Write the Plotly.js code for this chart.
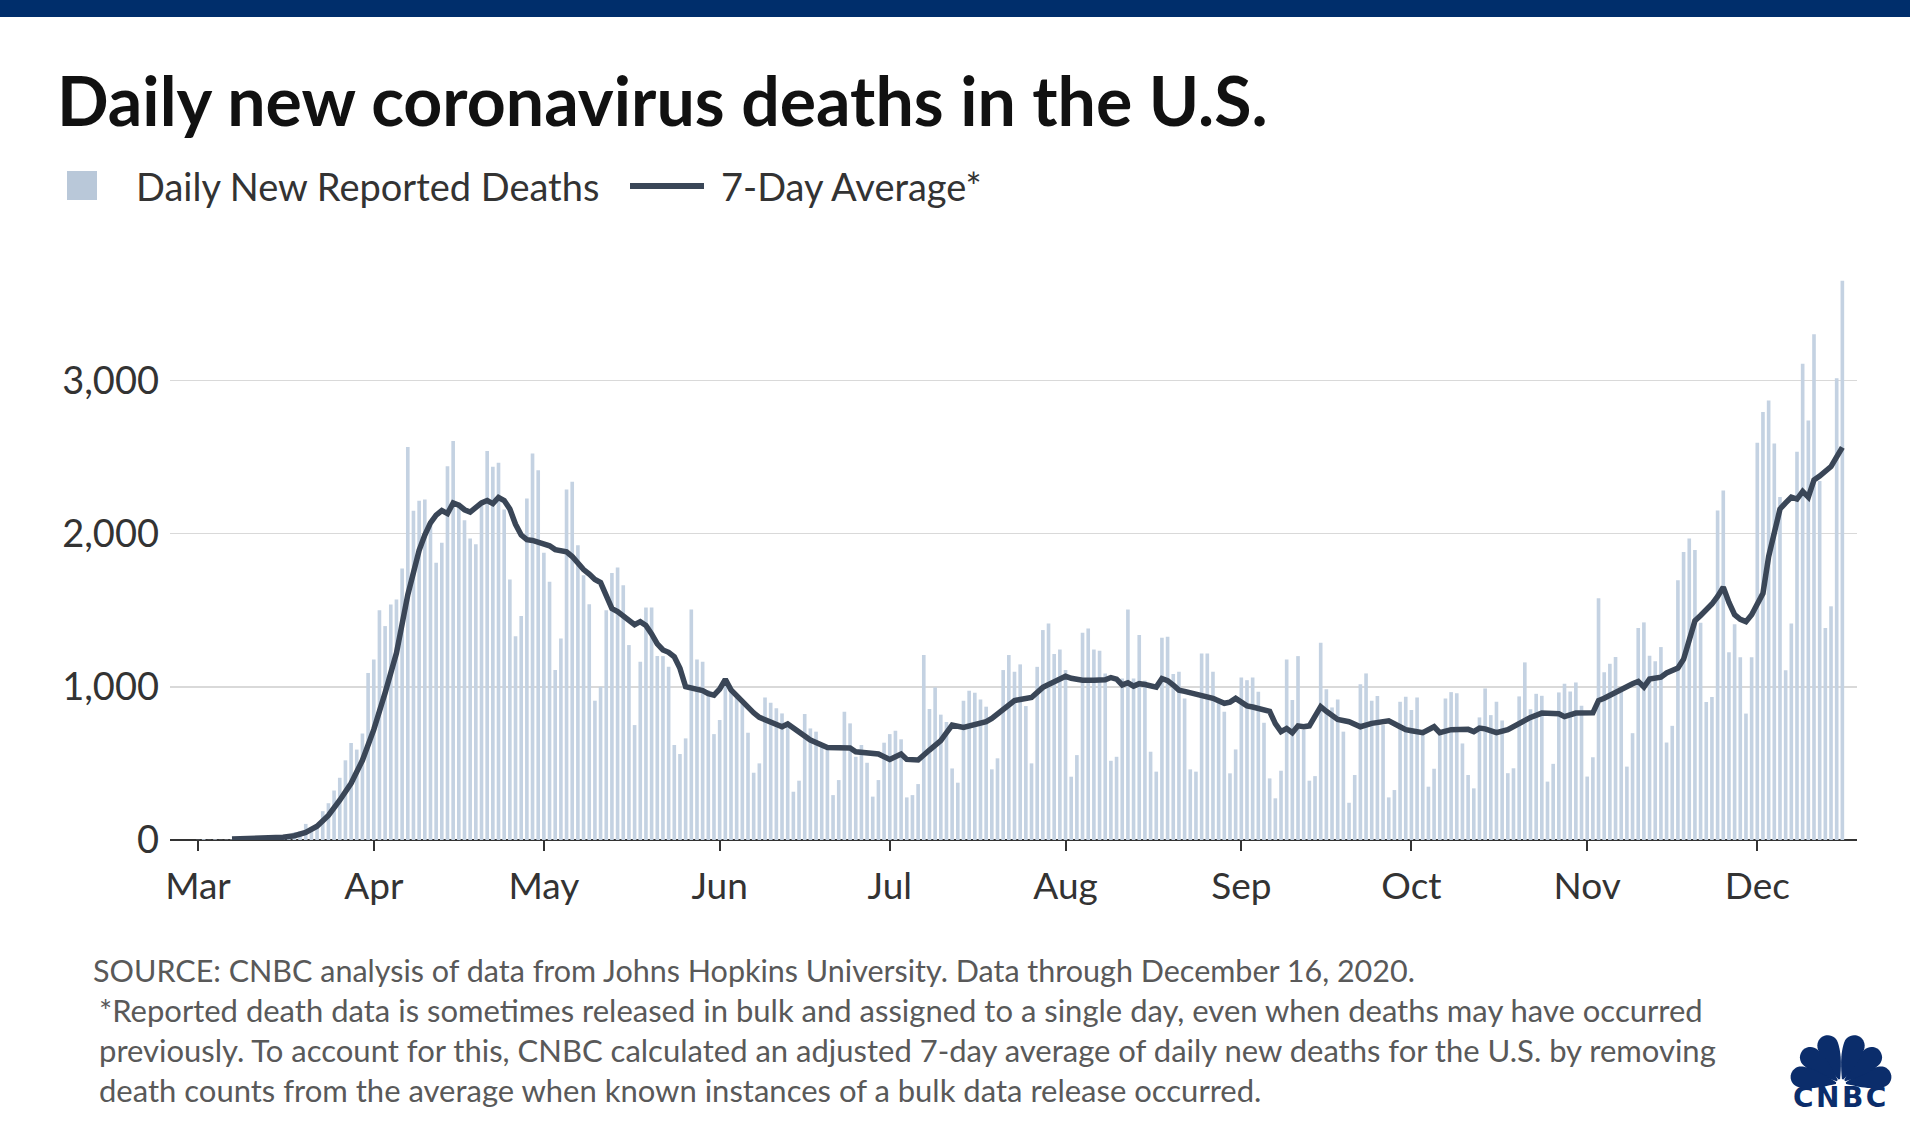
<!DOCTYPE html>
<html>
<head>
<meta charset="utf-8">
<script src="https://cdn.plot.ly/plotly-3.0.1.min.js"></script>
<style>
  html, body { margin: 0; padding: 0; background: #ffffff; }
  #chart { width: 1910px; height: 1123px; }
</style>
</head>
<body>
<div id="chart"></div>
<script>
// ---------------- DATA ----------------
const marDeaths = [1,5,1,4,1,2,3,4,4,5,7,8,10,9,12,20,25,50,57,105,83,94,188,240,323,406,520,633,590,695,1090];
const aprDeaths = [1178,1500,1396,1537,1570,1772,2565,2148,2213,2222,2048,1809,1939,2439,2604,2200,2087,1967,1930,2207,2539,2435,2461,2157,1700,1330,1461,2228,2522,2413];
const mayDeaths = [1874,1685,1109,1315,2287,2337,1924,1728,1539,909,1000,1500,1743,1778,1663,1272,750,1163,1517,1517,1200,1200,1130,620,561,663,1504,1178,1163,978,691];
const junDeaths = [783,1004,1000,950,891,700,439,500,930,896,859,826,761,315,387,822,728,707,630,587,293,391,837,761,543,620,504,283,391,635];
const julDeaths = [691,713,657,278,293,365,1207,855,996,818,770,467,374,909,974,961,917,870,461,533,1109,1207,1098,1146,874,500,1130,1370,1413,1213,1243];
const augDeaths = [1109,413,554,1352,1380,1243,1235,1087,517,543,1054,1504,1054,1337,1040,576,446,1320,1326,1083,1098,924,461,446,1217,1217,1098,902,837,435,591];
const sepDeaths = [1061,1043,1061,967,765,402,272,452,1178,913,1200,720,387,417,1287,983,865,917,707,243,424,1017,1087,909,939,750,278,326,902,935];
const octDeaths = [848,930,700,348,465,700,924,965,957,630,424,337,800,989,815,902,780,436,468,937,1159,854,954,941,381,497,963,1020,969,1028,876];
const novDeaths = [414,540,1577,1094,1150,1194,991,479,697,1383,1420,1203,1166,1259,636,745,1695,1880,1968,1893,1418,900,933,2150,2280,1225,1408,1193,825,1193];
const decDeaths = [2593,2793,2868,2588,2238,1108,1413,2533,3108,2738,3300,2343,1383,1525,3013,3650];

const avgDates = [
 "03-07","03-10","03-13","03-16","03-18","03-20","03-22","03-24","03-26","03-28","03-30",
 "04-01","04-03","04-05","04-07","04-09","04-10","04-11","04-12","04-13","04-14","04-15","04-16","04-17","04-18","04-19","04-20","04-21","04-22","04-23","04-24","04-25","04-26","04-27","04-28","04-29","04-30",
 "05-01","05-02","05-03","05-04","05-05","05-06","05-07","05-08","05-09","05-10","05-11","05-12","05-13","05-14","05-15","05-16","05-17","05-18","05-19","05-20","05-21","05-22","05-23","05-24","05-25","05-26","05-27","05-28","05-29","05-30","05-31",
 "06-01","06-02","06-03","06-04","06-05","06-06","06-07","06-08","06-10","06-12","06-13","06-15","06-17","06-20","06-23","06-24","06-25","06-27","06-29",
 "07-01","07-03","07-04","07-06","07-08","07-10","07-11","07-12","07-14","07-16","07-18","07-19","07-21","07-23","07-24","07-26","07-28","07-30",
 "08-01","08-02","08-04","08-06","08-08","08-09","08-10","08-11","08-12","08-13","08-14","08-15","08-16","08-17","08-18","08-19","08-20","08-21","08-22","08-24","08-26","08-27","08-29","08-30","08-31",
 "09-01","09-02","09-03","09-05","09-06","09-07","09-08","09-09","09-10","09-11","09-12","09-13","09-14","09-15","09-16","09-17","09-18","09-20","09-22","09-24","09-27","09-29","09-30",
 "10-01","10-03","10-05","10-06","10-08","10-11","10-12","10-13","10-14","10-16","10-18","10-20","10-22","10-24","10-25","10-27","10-28","10-30",
 "11-02","11-03","11-04","11-05","11-07","11-09","11-10","11-11","11-12","11-14","11-15","11-17","11-18","11-19","11-20","11-21","11-22","11-23","11-24","11-25","11-26","11-27","11-28","11-29","11-30",
 "12-01","12-02","12-03","12-04","12-05","12-06","12-07","12-08","12-09","12-10","12-11","12-12","12-13","12-14","12-15","12-16"
];
const avgValues = [
 6,8,12,18,28,50,90,160,260,370,520,
 720,960,1220,1600,1890,1990,2070,2120,2150,2130,2200,2185,2155,2140,2170,2200,2215,2195,2235,2215,2160,2060,1990,1960,1955,1945,
 1935,1920,1895,1890,1880,1850,1800,1765,1735,1700,1680,1600,1510,1490,1465,1440,1405,1425,1400,1345,1280,1240,1225,1195,1120,1000,990,985,975,955,945,
 985,1048,980,940,905,870,830,800,772,739,757,707,652,604,603,600,576,570,561,
 526,561,526,522,587,648,700,750,735,757,772,793,852,910,917,930,996,1033,
 1068,1055,1043,1043,1045,1060,1050,1012,1026,1004,1020,1015,1011,998,1054,1040,1011,978,970,952,935,925,892,900,924,
 900,875,868,852,840,760,707,728,700,745,740,745,800,870,840,815,787,772,739,761,778,739,720,
 713,700,739,700,720,722,707,730,725,700,720,762,800,828,825,824,805,828,
 830,910,925,945,990,1020,1035,998,1050,1063,1090,1122,1180,1300,1430,1465,1500,1540,1590,1650,1550,1470,1440,1425,1470,
 1540,1610,1850,2000,2160,2200,2237,2225,2275,2237,2350,2375,2412,2437,2500,2562
];

const monthTicks  = ["2020-03-01","2020-04-01","2020-05-01","2020-06-01","2020-07-01","2020-08-01","2020-09-01","2020-10-01","2020-11-01","2020-12-01"];
const monthLabels = ["Mar","Apr","May","Jun","Jul","Aug","Sep","Oct","Nov","Dec"];
const yTicks  = [0, 1000, 2000, 3000];
const yLabels = ["0", "1,000", "2,000", "3,000"];

const seriesName = "Daily New Reported Deaths";
const avgName = "7-Day Average*";
const titleText = "Daily new coronavirus deaths in the U.S.";
const sourceText = "SOURCE: CNBC analysis of data from Johns Hopkins University. Data through December 16, 2020.";
const noteLines = [
 "*Reported death data is sometimes released in bulk and assigned to a single day, even when deaths may have occurred",
 "previously. To account for this, CNBC calculated an adjusted 7-day average of daily new deaths for the U.S. by removing",
 "death counts from the average when known instances of a bulk data release occurred."
];

// ---------------- build x/y from month arrays ----------------
const months = [["03",marDeaths],["04",aprDeaths],["05",mayDeaths],["06",junDeaths],["07",julDeaths],
                ["08",augDeaths],["09",sepDeaths],["10",octDeaths],["11",novDeaths],["12",decDeaths]];
const barX = [], barY = [];
months.forEach(([m, arr]) => arr.forEach((v, i) => {
  barX.push("2020-" + m + "-" + String(i + 1).padStart(2, "0"));
  barY.push(v);
}));
const lineX = avgDates.map(d => "2020-" + d);

// ---------------- geometry helpers (page pixels -> paper) ----------------
const W = 1910, H = 1123, ML = 170, MR = 53, MT = 273, MB = 283;
const PW = W - ML - MR, PH = H - MT - MB;
const px = x => (x - ML) / PW;
const py = y => (H - MB - y) / PH;

const BAR_COLOR = "#c4d2e2";
const LINE_COLOR = "#3a4657";
const NAVY = "#0b2d6b";
const FONT = "Lato, 'Open Sans', sans-serif";

// peacock feathers for the logo
function feather(angDeg, len, hw, r0, bx, by) {
  const a = angDeg * Math.PI / 180;
  const dx = Math.cos(a), dy = -Math.sin(a);
  const nx = Math.sin(a), ny = Math.cos(a);
  const pts = [];
  const N = 12;
  const pt = (u, v) => [bx + u * dx + v * nx, by + u * dy + v * ny];
  const side = t => 0.8 + (hw - 0.8) * Math.sin(t * Math.PI / 2);
  for (let i = 0; i <= N; i++) {
    const t = i / N, u = r0 + t * (len - hw - r0);
    pts.push(pt(u, -side(t)));
  }
  for (let j = 1; j < 18; j++) {
    const th = -Math.PI / 2 + Math.PI * j / 18;
    pts.push(pt(len - hw + hw * Math.cos(th), hw * Math.sin(th)));
  }
  for (let i = N; i >= 0; i--) {
    const t = i / N, u = r0 + t * (len - hw - r0);
    pts.push(pt(u, side(t)));
  }
  return "M" + pts.map(p => px(p[0]).toFixed(5) + "," + py(p[1]).toFixed(5)).join("L") + "Z";
}

const shapes = [
  { type: "rect", xref: "paper", yref: "paper", x0: px(0), x1: px(W), y0: py(0), y1: py(17),
    fillcolor: "#002e6b", line: { width: 0 } },
  { type: "rect", xref: "paper", yref: "paper", x0: px(67), x1: px(97), y0: py(171), y1: py(200),
    fillcolor: "#b9c8d9", line: { width: 0 } },
  { type: "line", xref: "paper", yref: "paper", x0: px(630), x1: px(704), y0: py(186), y1: py(186),
    line: { color: LINE_COLOR, width: 6 } }
];
[10, 41, 71, 109, 139, 170].forEach(a => {
  shapes.push({ type: "path", xref: "paper", yref: "paper", path: feather(a, 51, 10.5, 5, 1841, 1084),
    fillcolor: NAVY, line: { width: 0 } });
});

const annotations = [
  { xref: "paper", yref: "paper", x: px(134), y: py(186), xanchor: "left", yanchor: "middle", showarrow: false,
    text: seriesName, font: { family: FONT, size: 38, color: "#333" } },
  { xref: "paper", yref: "paper", x: px(719), y: py(186), xanchor: "left", yanchor: "middle", showarrow: false,
    text: avgName, font: { family: FONT, size: 38, color: "#333" } },
  { xref: "paper", yref: "paper", x: px(91), y: py(970), xanchor: "left", yanchor: "middle", showarrow: false,
    text: sourceText, font: { family: FONT, size: 30.5, color: "#595959" } },
  { xref: "paper", yref: "paper", x: px(1841), y: py(1097), xanchor: "center", yanchor: "middle", showarrow: false,
    text: "<b>CNBC</b>", font: { family: "'DejaVu Sans', sans-serif", size: 28, color: NAVY } }
];
noteLines.forEach((t, i) => annotations.push({
  xref: "paper", yref: "paper", x: px(97), y: py(1010 + 40 * i), xanchor: "left", yanchor: "middle", showarrow: false,
  text: t, font: { family: FONT, size: 31, color: "#595959" }
}));

const traces = [
  { type: "bar", x: barX, y: barY, name: seriesName, marker: { color: BAR_COLOR, line: { width: 0 } },
    showlegend: false, hoverinfo: "x+y" },
  { type: "scatter", mode: "lines", x: lineX, y: avgValues, name: avgName,
    line: { color: LINE_COLOR, width: 5.5, shape: "linear" }, showlegend: false }
];

const layout = {
  width: W, height: H,
  margin: { l: ML, r: MR, t: MT, b: MB, pad: 0 },
  paper_bgcolor: "#ffffff", plot_bgcolor: "#ffffff",
  font: { family: FONT, color: "#333" },
  title: { text: titleText, x: 57 / W, xref: "container", xanchor: "left",
           y: 1 - 102 / H, yref: "container", yanchor: "middle",
           font: { family: FONT, size: 68, color: "#111", weight: 700 } },
  bargap: 0.36,
  showlegend: false,
  xaxis: {
    type: "date", range: ["2020-02-25 01:30", "2020-12-18 14:00"],
    tickmode: "array", tickvals: monthTicks, ticktext: monthLabels,
    ticks: "outside", ticklen: 10, tickwidth: 2, tickcolor: "#333",
    ticklabelstandoff: 4,
    tickfont: { family: FONT, size: 37, color: "#333" },
    showgrid: false, zeroline: false, showline: false, fixedrange: true
  },
  yaxis: {
    range: [0, 3700], tickmode: "array", tickvals: yTicks, ticktext: yLabels,
    tickfont: { family: FONT, size: 38, color: "#333" },
    ticks: "", ticklabelstandoff: 10,
    showgrid: true, gridcolor: "#d9d9d9", gridwidth: 1.5,
    zeroline: true, zerolinecolor: "#333", zerolinewidth: 2,
    showline: false, fixedrange: true
  },
  shapes: shapes,
  annotations: annotations
};

Plotly.newPlot("chart", traces, layout, { displayModeBar: false, staticPlot: true }).then(gd => {
  // widen the logo lettering a little, as in the CNBC wordmark
  gd.querySelectorAll(".annotation-text").forEach(t => {
    if (t.textContent === "CNBC") t.setAttribute("letter-spacing", "2.5");
  });
});
</script>
</body>
</html>
